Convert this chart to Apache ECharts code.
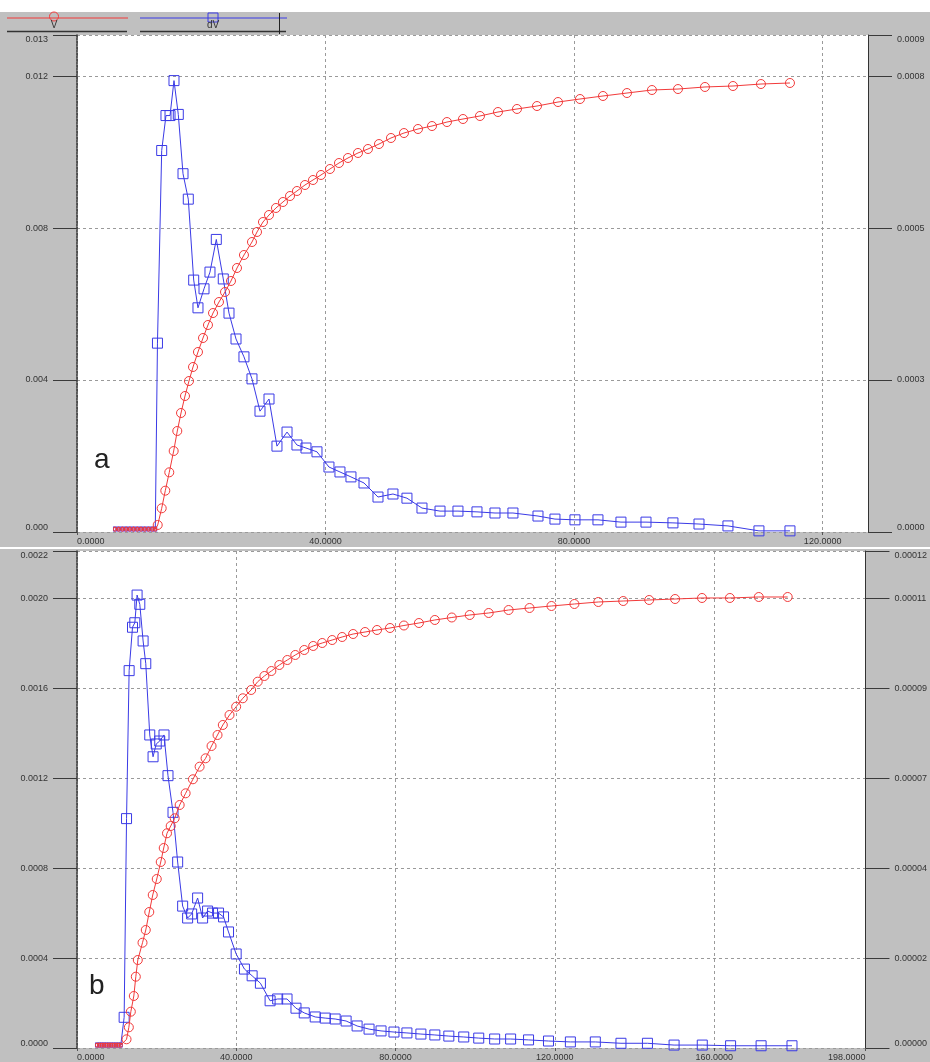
<!DOCTYPE html>
<html><head><meta charset="utf-8">
<script src="https://cdn.jsdelivr.net/npm/echarts@6/dist/echarts.min.js"></script>
<style>html,body{margin:0;padding:0;background:#c0c0c0}#c{width:930px;height:1062px}</style>
</head><body><div id="c"></div>
<script>
// ---------- data (panel a) ----------
const aBandX = [6.1, 6.7, 7.3, 7.9, 8.5, 9.1, 9.7, 10.3, 10.9, 11.5, 12.1, 12.6];
const aBandDv = 0.00008;      // left axis units
const aBandV = 0.000005;      // right axis units
const aDvX = [12.95,13.63,14.32,14.97,15.61,16.30,17.06,17.91,18.78,19.47,20.44,21.40,22.42,23.54,24.46,25.59,26.87,28.16,29.45,30.90,32.18,33.80,35.40,36.85,38.62,40.55,42.32,44.09,46.19,48.44,50.85,53.10,55.52,58.42,61.31,64.37,67.27,70.16,74.19,76.92,80.14,83.84,87.54,91.57,95.91,100.10,104.76,109.75,114.74];
const aDv = [4.97,10.04,10.96,10.96,11.88,10.99,9.43,8.76,6.63,5.90,6.40,6.84,7.70,6.66,5.76,5.08,4.61,4.03,3.18,3.50,2.26,2.63,2.29,2.21,2.11,1.71,1.58,1.45,1.29,0.92,1.00,0.89,0.63,0.55,0.55,0.53,0.50,0.50,0.42,0.34,0.32,0.32,0.26,0.26,0.24,0.21,0.16,0.03,0.03]; // x1e-3
const aVX = [12.99,13.63,14.21,14.85,15.56,16.14,16.74,17.38,18.02,18.67,19.47,20.28,21.08,21.89,22.85,23.82,24.78,25.75,26.87,28.16,28.97,29.93,30.90,32.02,33.15,34.28,35.40,36.69,37.98,39.27,40.71,42.16,43.61,45.22,46.83,48.60,50.53,52.62,54.88,57.13,59.54,62.12,64.85,67.75,70.81,74.03,77.41,80.95,84.65,88.51,92.53,96.72,101.06,105.57,110.07,114.74];
const aV = [0.123,0.416,0.725,1.047,1.421,1.772,2.088,2.386,2.649,2.895,3.158,3.404,3.632,3.842,4.035,4.211,4.404,4.632,4.860,5.088,5.264,5.439,5.562,5.685,5.790,5.895,5.983,6.088,6.176,6.264,6.369,6.474,6.562,6.650,6.720,6.807,6.913,7.000,7.071,7.123,7.193,7.246,7.299,7.369,7.422,7.474,7.544,7.597,7.650,7.702,7.755,7.772,7.808,7.825,7.860,7.878]; // x1e-4

// ---------- data (panel b) ----------
const bBandX = [5.0, 5.6, 6.2, 6.8, 7.4, 8.0, 8.6, 9.2, 9.8, 10.4, 11.0];
const bBandDv = 0.0000133;
const bBandV = 0.0000007;
const bDvX = [11.84,12.44,13.09,13.94,14.52,15.09,15.77,16.60,17.27,18.27,19.10,19.90,20.78,21.85,22.85,24.11,25.28,26.53,27.78,28.79,30.29,31.54,32.79,34.04,35.54,36.80,38.05,39.97,42.05,43.98,46.06,48.49,50.39,52.74,54.99,57.07,59.82,62.33,64.83,67.58,70.34,73.34,76.35,79.60,82.85,86.36,89.86,93.37,97.12,100.88,104.88,108.89,113.39,118.40,123.90,130.16,136.60,143.25,149.94,157.02,164.13,171.79,179.55];
const bDv = [1.365,10.20,16.78,18.71,18.91,20.14,19.73,18.10,17.09,13.92,12.95,13.52,13.65,13.92,12.11,10.48,8.27,6.31,5.78,5.96,6.67,5.78,6.09,6.00,6.00,5.83,5.16,4.18,3.51,3.21,2.88,2.10,2.18,2.18,1.77,1.56,1.38,1.33,1.29,1.20,0.98,0.84,0.76,0.71,0.67,0.62,0.58,0.53,0.49,0.44,0.40,0.40,0.36,0.31,0.27,0.27,0.21,0.21,0.13,0.13,0.10,0.10,0.10]; // x1e-4
const bVX = [12.44,13.02,13.52,14.27,14.77,15.27,16.45,17.27,18.15,19.02,20.03,21.03,21.78,22.60,23.53,24.53,25.78,27.28,29.11,30.79,32.29,33.79,35.29,36.62,38.30,39.97,41.63,43.73,45.38,47.06,48.81,50.81,52.82,54.82,57.07,59.32,61.58,64.08,66.58,69.34,72.34,75.34,78.60,82.10,85.86,89.86,94.12,98.62,103.38,108.39,113.64,119.15,124.91,130.91,137.17,143.68,150.19,156.95,163.95,171.21,178.47];
const bV = [0.213,0.506,0.888,1.272,1.744,2.152,2.575,2.886,3.326,3.742,4.133,4.549,4.891,5.251,5.429,5.618,5.943,6.229,6.572,6.880,7.085,7.386,7.655,7.900,8.144,8.347,8.553,8.756,8.959,9.098,9.220,9.367,9.489,9.612,9.734,9.832,9.905,9.978,10.052,10.125,10.174,10.223,10.272,10.333,10.394,10.468,10.529,10.590,10.639,10.712,10.761,10.810,10.859,10.908,10.932,10.957,10.981,11.006,11.006,11.030,11.030]; // x1e-5

// ---------- axes ----------
const aXMax = 127.3, bXMax = 198, xInterval = 40;
const aLeftMax = 0.01308, aLeftInt = 0.004, aRightMax = 0.000872;
const bLeftMax = 0.00221, bLeftInt = 0.0004, bRightMax = 0.00012155;
const legendNames = ['V', 'dV'];
const panelLetters = ['a', 'b'];

const RED = '#f23a3a', BLUE = '#3a3ae6';
const zip = (xs, ys, k) => xs.map((x, i) => [x, ys[i] * k]);
const band = (xs, v) => xs.map(x => [x, v]);

const aDvData = band(aBandX, aBandDv).concat(zip(aDvX, aDv, 1e-3));
const aVData = band(aBandX, aBandV).concat(zip(aVX, aV, 1e-4));
const bDvData = band(bBandX, bBandDv).concat(zip(bDvX, bDv, 1e-4));
const bVData = band(bBandX, bBandV).concat(zip(bVX, bV, 1e-5));

const FONT = 'Liberation Sans';
const lbl = {fontSize: 9, color: '#333', fontFamily: FONT};
const split = {show: true, lineStyle: {color: '#9a9a9a', type: [3, 3], width: 1}};

function xAxis(gi, max, showMax) {
  return {type: 'value', gridIndex: gi, min: 0, max: max, interval: xInterval,
    axisLine: {show: false}, axisTick: {show: true, length: 3, lineStyle: {color: '#555'}},
    axisLabel: Object.assign({margin: 5, formatter: v => v.toFixed(4), showMaxLabel: showMax,
      alignMinLabel: 'left', alignMaxLabel: 'right'}, lbl),
    splitLine: split};
}
function yAxis(gi, pos, max, interval, dec, showSplit) {
  return {type: 'value', gridIndex: gi, position: pos, min: 0, max: max, interval: interval,
    axisLine: {show: true, lineStyle: {color: '#333', width: pos === 'left' ? 1.5 : 1, type: pos === 'left' ? [2, 1] : 'solid'}},
    axisTick: {show: true, length: 24, lineStyle: {color: '#3a3a3a', width: 1}},
    axisLabel: Object.assign({margin: 29, formatter: v => v.toFixed(dec),
      verticalAlignMinLabel: 'bottom', verticalAlignMaxLabel: 'top'}, lbl),
    splitLine: showSplit ? split : {show: false}};
}
function lineSeries(xi, yi, data, color, symbol, size, nBand) {
  return {type: 'line', xAxisIndex: xi, yAxisIndex: yi, data: data, symbol: symbol,
    symbolSize: (v, p) => p.dataIndex < nBand ? [3, 4] : size,
    lineStyle: {color: color, width: 1}, itemStyle: {color: 'rgba(0,0,0,0)', borderColor: color, borderWidth: 1},
    emphasis: {disabled: true}, clip: false, z: symbol === 'rect' ? 3 : 4};
}

const chart = echarts.init(document.getElementById('c'));
chart.setOption({
  animation: false,
  backgroundColor: 'transparent',
  grid: [
    {left: 77, top: 35, width: 791, height: 497, show: true, backgroundColor: '#fff', borderWidth: 0},
    {left: 77, top: 551, width: 791, height: 497, show: true, backgroundColor: '#fff', borderWidth: 0}
  ],
  xAxis: [xAxis(0, aXMax, false), xAxis(1, bXMax, true)],
  yAxis: [
    yAxis(0, 'left', aLeftMax, aLeftInt, 3, true),
    yAxis(0, 'right', aRightMax, aRightMax * aLeftInt / aLeftMax, 4, false),
    yAxis(1, 'left', bLeftMax, bLeftInt, 4, true),
    yAxis(1, 'right', bRightMax, bRightMax * bLeftInt / bLeftMax, 5, false)
  ],
  series: [
    lineSeries(0, 0, aDvData, BLUE, 'rect', 10, aBandX.length),
    lineSeries(0, 1, aVData, RED, 'circle', 9, aBandX.length),
    lineSeries(1, 2, bDvData, BLUE, 'rect', 10, bBandX.length),
    lineSeries(1, 3, bVData, RED, 'circle', 9, bBandX.length)
  ],
  graphic: [
    {type: 'rect', shape: {x: 0, y: 0, width: 930, height: 12}, style: {fill: '#fff'}, silent: true},
    {type: 'rect', shape: {x: 0, y: 547, width: 930, height: 2}, style: {fill: '#fff'}, silent: true},
    // legend strip
    {type: 'line', shape: {x1: 7, y1: 18, x2: 128, y2: 18}, style: {stroke: RED, lineWidth: 1}},
    {type: 'circle', shape: {cx: 54, cy: 16.5, r: 4.5}, style: {stroke: RED, fill: 'none', lineWidth: 1}},
    {type: 'text', x: 54, y: 20, style: {text: legendNames[0], font: '10px ' + FONT, fill: '#333', align: 'center', verticalAlign: 'top'}},
    {type: 'line', shape: {x1: 140, y1: 18, x2: 287, y2: 18}, style: {stroke: BLUE, lineWidth: 1}},
    {type: 'rect', shape: {x: 208, y: 13, width: 10, height: 9}, style: {stroke: BLUE, fill: 'none', lineWidth: 1}},
    {type: 'text', x: 213, y: 20, style: {text: legendNames[1], font: '10px ' + FONT, fill: '#333', align: 'center', verticalAlign: 'top'}},
    {type: 'line', shape: {x1: 7, y1: 31.5, x2: 127, y2: 31.5}, style: {stroke: '#333', lineWidth: 1.5}},
    {type: 'line', shape: {x1: 140, y1: 31.5, x2: 286, y2: 31.5}, style: {stroke: '#333', lineWidth: 1.5}},
    {type: 'line', shape: {x1: 279.5, y1: 13, x2: 279.5, y2: 34}, style: {stroke: '#222', lineWidth: 1}},
    // panel letters
    {type: 'text', x: 94, y: 446, style: {text: panelLetters[0], font: '28px ' + FONT, fill: '#222'}, z: 10},
    {type: 'text', x: 89, y: 972, style: {text: panelLetters[1], font: '28px ' + FONT, fill: '#222'}, z: 10}
  ]
});
</script>
</body></html>
